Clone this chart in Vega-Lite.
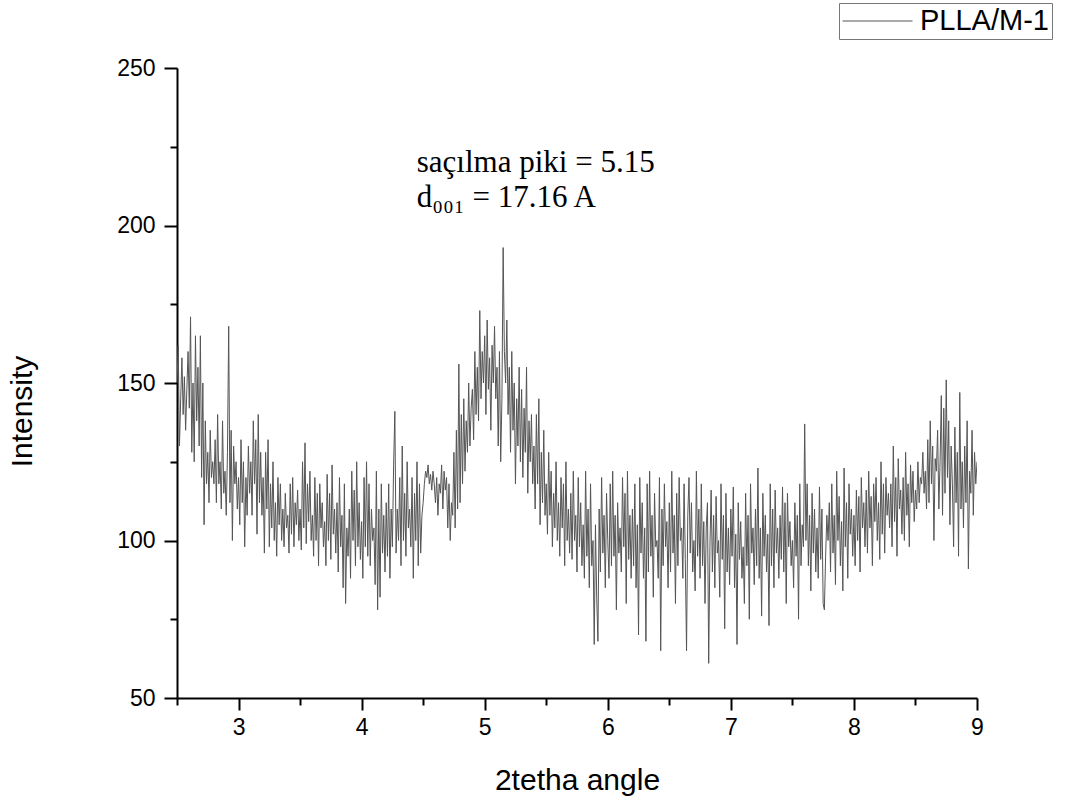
{
"$schema": "https://vega.github.io/schema/vega-lite/v6.json",
"width": 800, "height": 630,
"autosize": {"type": "none"},
"padding": {"left": 177, "top": 68, "right": 88, "bottom": 104},
"background": "white",
"config": {"view": {"stroke": null}, "font": "Liberation Sans"},
"layer": [
{
"data": {"values": [
{"angle":2.50,"intensity":150},{"angle":2.51,"intensity":162},{"angle":2.52,"intensity":130},{"angle":2.53,"intensity":145},{"angle":2.54,"intensity":158},{"angle":2.55,"intensity":140},{"angle":2.56,"intensity":152},{"angle":2.57,"intensity":135},{"angle":2.58,"intensity":148},{"angle":2.59,"intensity":160},
{"angle":2.60,"intensity":142},{"angle":2.61,"intensity":171},{"angle":2.62,"intensity":128},{"angle":2.63,"intensity":150},{"angle":2.64,"intensity":125},{"angle":2.65,"intensity":165},{"angle":2.66,"intensity":138},{"angle":2.67,"intensity":155},{"angle":2.68,"intensity":130},{"angle":2.69,"intensity":165},
{"angle":2.70,"intensity":120},{"angle":2.71,"intensity":150},{"angle":2.72,"intensity":105},{"angle":2.73,"intensity":138},{"angle":2.74,"intensity":118},{"angle":2.75,"intensity":128},{"angle":2.76,"intensity":112},{"angle":2.77,"intensity":135},{"angle":2.78,"intensity":120},{"angle":2.79,"intensity":125},
{"angle":2.80,"intensity":118},{"angle":2.81,"intensity":132},{"angle":2.82,"intensity":112},{"angle":2.83,"intensity":140},{"angle":2.84,"intensity":118},{"angle":2.85,"intensity":125},{"angle":2.86,"intensity":110},{"angle":2.87,"intensity":138},{"angle":2.88,"intensity":115},{"angle":2.89,"intensity":122},
{"angle":2.90,"intensity":108},{"angle":2.91,"intensity":128},{"angle":2.92,"intensity":168},{"angle":2.93,"intensity":112},{"angle":2.94,"intensity":135},{"angle":2.95,"intensity":100},{"angle":2.96,"intensity":130},{"angle":2.97,"intensity":118},{"angle":2.98,"intensity":125},{"angle":2.99,"intensity":110},
{"angle":3.00,"intensity":120},{"angle":3.01,"intensity":105},{"angle":3.02,"intensity":132},{"angle":3.03,"intensity":112},{"angle":3.04,"intensity":125},{"angle":3.05,"intensity":98},{"angle":3.06,"intensity":120},{"angle":3.07,"intensity":108},{"angle":3.08,"intensity":130},{"angle":3.09,"intensity":115},
{"angle":3.10,"intensity":125},{"angle":3.11,"intensity":108},{"angle":3.12,"intensity":138},{"angle":3.13,"intensity":118},{"angle":3.14,"intensity":132},{"angle":3.15,"intensity":102},{"angle":3.16,"intensity":140},{"angle":3.17,"intensity":112},{"angle":3.18,"intensity":128},{"angle":3.19,"intensity":108},
{"angle":3.20,"intensity":120},{"angle":3.21,"intensity":96},{"angle":3.22,"intensity":128},{"angle":3.23,"intensity":110},{"angle":3.24,"intensity":132},{"angle":3.25,"intensity":98},{"angle":3.26,"intensity":118},{"angle":3.27,"intensity":104},{"angle":3.28,"intensity":125},{"angle":3.29,"intensity":100},
{"angle":3.30,"intensity":112},{"angle":3.31,"intensity":95},{"angle":3.32,"intensity":120},{"angle":3.33,"intensity":105},{"angle":3.34,"intensity":118},{"angle":3.35,"intensity":100},{"angle":3.36,"intensity":110},{"angle":3.37,"intensity":98},{"angle":3.38,"intensity":115},{"angle":3.39,"intensity":104},
{"angle":3.40,"intensity":108},{"angle":3.41,"intensity":96},{"angle":3.42,"intensity":118},{"angle":3.43,"intensity":102},{"angle":3.44,"intensity":120},{"angle":3.45,"intensity":98},{"angle":3.46,"intensity":112},{"angle":3.47,"intensity":105},{"angle":3.48,"intensity":116},{"angle":3.49,"intensity":100},
{"angle":3.50,"intensity":110},{"angle":3.51,"intensity":97},{"angle":3.52,"intensity":125},{"angle":3.53,"intensity":104},{"angle":3.54,"intensity":131},{"angle":3.55,"intensity":99},{"angle":3.56,"intensity":118},{"angle":3.57,"intensity":106},{"angle":3.58,"intensity":122},{"angle":3.59,"intensity":100},
{"angle":3.60,"intensity":108},{"angle":3.61,"intensity":95},{"angle":3.62,"intensity":120},{"angle":3.63,"intensity":100},{"angle":3.64,"intensity":115},{"angle":3.65,"intensity":92},{"angle":3.66,"intensity":118},{"angle":3.67,"intensity":104},{"angle":3.68,"intensity":112},{"angle":3.69,"intensity":98},
{"angle":3.70,"intensity":106},{"angle":3.71,"intensity":92},{"angle":3.72,"intensity":121},{"angle":3.73,"intensity":100},{"angle":3.74,"intensity":115},{"angle":3.75,"intensity":94},{"angle":3.76,"intensity":124},{"angle":3.77,"intensity":102},{"angle":3.78,"intensity":110},{"angle":3.79,"intensity":96},
{"angle":3.80,"intensity":112},{"angle":3.81,"intensity":90},{"angle":3.82,"intensity":120},{"angle":3.83,"intensity":98},{"angle":3.84,"intensity":108},{"angle":3.85,"intensity":85},{"angle":3.86,"intensity":118},{"angle":3.87,"intensity":80},{"angle":3.88,"intensity":104},{"angle":3.89,"intensity":95},
{"angle":3.90,"intensity":110},{"angle":3.91,"intensity":88},{"angle":3.92,"intensity":122},{"angle":3.93,"intensity":100},{"angle":3.94,"intensity":116},{"angle":3.95,"intensity":92},{"angle":3.96,"intensity":125},{"angle":3.97,"intensity":98},{"angle":3.98,"intensity":112},{"angle":3.99,"intensity":94},
{"angle":4.00,"intensity":106},{"angle":4.01,"intensity":88},{"angle":4.02,"intensity":120},{"angle":4.03,"intensity":98},{"angle":4.04,"intensity":125},{"angle":4.05,"intensity":95},{"angle":4.06,"intensity":118},{"angle":4.07,"intensity":92},{"angle":4.08,"intensity":110},{"angle":4.09,"intensity":100},
{"angle":4.10,"intensity":104},{"angle":4.11,"intensity":86},{"angle":4.12,"intensity":122},{"angle":4.13,"intensity":78},{"angle":4.14,"intensity":110},{"angle":4.15,"intensity":82},{"angle":4.16,"intensity":118},{"angle":4.17,"intensity":96},{"angle":4.18,"intensity":108},{"angle":4.19,"intensity":90},
{"angle":4.20,"intensity":112},{"angle":4.21,"intensity":95},{"angle":4.22,"intensity":118},{"angle":4.23,"intensity":88},{"angle":4.24,"intensity":110},{"angle":4.25,"intensity":98},{"angle":4.26,"intensity":124},{"angle":4.27,"intensity":141},{"angle":4.28,"intensity":96},{"angle":4.29,"intensity":110},
{"angle":4.30,"intensity":100},{"angle":4.31,"intensity":120},{"angle":4.32,"intensity":92},{"angle":4.33,"intensity":130},{"angle":4.34,"intensity":100},{"angle":4.35,"intensity":115},{"angle":4.36,"intensity":95},{"angle":4.37,"intensity":125},{"angle":4.38,"intensity":104},{"angle":4.39,"intensity":110},
{"angle":4.40,"intensity":98},{"angle":4.41,"intensity":120},{"angle":4.42,"intensity":88},{"angle":4.43,"intensity":115},{"angle":4.44,"intensity":100},{"angle":4.45,"intensity":125},{"angle":4.46,"intensity":92},{"angle":4.47,"intensity":118},{"angle":4.48,"intensity":96},{"angle":4.49,"intensity":108},
{"angle":4.50,"intensity":112},{"angle":4.51,"intensity":118},{"angle":4.52,"intensity":122},{"angle":4.53,"intensity":120},{"angle":4.54,"intensity":124},{"angle":4.55,"intensity":118},{"angle":4.56,"intensity":121},{"angle":4.57,"intensity":116},{"angle":4.58,"intensity":122},{"angle":4.59,"intensity":118},
{"angle":4.60,"intensity":112},{"angle":4.61,"intensity":120},{"angle":4.62,"intensity":108},{"angle":4.63,"intensity":118},{"angle":4.64,"intensity":115},{"angle":4.65,"intensity":124},{"angle":4.66,"intensity":110},{"angle":4.67,"intensity":122},{"angle":4.68,"intensity":116},{"angle":4.69,"intensity":120},
{"angle":4.70,"intensity":104},{"angle":4.71,"intensity":118},{"angle":4.72,"intensity":100},{"angle":4.73,"intensity":112},{"angle":4.74,"intensity":108},{"angle":4.75,"intensity":128},{"angle":4.76,"intensity":104},{"angle":4.77,"intensity":135},{"angle":4.78,"intensity":110},{"angle":4.79,"intensity":156},
{"angle":4.80,"intensity":112},{"angle":4.81,"intensity":140},{"angle":4.82,"intensity":118},{"angle":4.83,"intensity":145},{"angle":4.84,"intensity":122},{"angle":4.85,"intensity":138},{"angle":4.86,"intensity":128},{"angle":4.87,"intensity":150},{"angle":4.88,"intensity":130},{"angle":4.89,"intensity":142},
{"angle":4.90,"intensity":148},{"angle":4.91,"intensity":132},{"angle":4.92,"intensity":160},{"angle":4.93,"intensity":140},{"angle":4.94,"intensity":155},{"angle":4.95,"intensity":138},{"angle":4.96,"intensity":173},{"angle":4.97,"intensity":145},{"angle":4.98,"intensity":160},{"angle":4.99,"intensity":150},
{"angle":5.00,"intensity":165},{"angle":5.01,"intensity":140},{"angle":5.02,"intensity":170},{"angle":5.03,"intensity":148},{"angle":5.04,"intensity":158},{"angle":5.05,"intensity":135},{"angle":5.06,"intensity":162},{"angle":5.07,"intensity":150},{"angle":5.08,"intensity":168},{"angle":5.09,"intensity":145},
{"angle":5.10,"intensity":155},{"angle":5.11,"intensity":130},{"angle":5.12,"intensity":160},{"angle":5.13,"intensity":125},{"angle":5.14,"intensity":145},{"angle":5.15,"intensity":193},{"angle":5.16,"intensity":160},{"angle":5.17,"intensity":150},{"angle":5.18,"intensity":170},{"angle":5.19,"intensity":140},
{"angle":5.20,"intensity":155},{"angle":5.21,"intensity":128},{"angle":5.22,"intensity":160},{"angle":5.23,"intensity":135},{"angle":5.24,"intensity":150},{"angle":5.25,"intensity":118},{"angle":5.26,"intensity":145},{"angle":5.27,"intensity":130},{"angle":5.28,"intensity":155},{"angle":5.29,"intensity":125},
{"angle":5.30,"intensity":148},{"angle":5.31,"intensity":120},{"angle":5.32,"intensity":142},{"angle":5.33,"intensity":128},{"angle":5.34,"intensity":155},{"angle":5.35,"intensity":115},{"angle":5.36,"intensity":138},{"angle":5.37,"intensity":125},{"angle":5.38,"intensity":140},{"angle":5.39,"intensity":118},
{"angle":5.40,"intensity":130},{"angle":5.41,"intensity":110},{"angle":5.42,"intensity":140},{"angle":5.43,"intensity":118},{"angle":5.44,"intensity":145},{"angle":5.45,"intensity":105},{"angle":5.46,"intensity":128},{"angle":5.47,"intensity":112},{"angle":5.48,"intensity":135},{"angle":5.49,"intensity":108},
{"angle":5.50,"intensity":118},{"angle":5.51,"intensity":102},{"angle":5.52,"intensity":128},{"angle":5.53,"intensity":108},{"angle":5.54,"intensity":122},{"angle":5.55,"intensity":98},{"angle":5.56,"intensity":115},{"angle":5.57,"intensity":104},{"angle":5.58,"intensity":125},{"angle":5.59,"intensity":100},
{"angle":5.60,"intensity":112},{"angle":5.61,"intensity":95},{"angle":5.62,"intensity":120},{"angle":5.63,"intensity":104},{"angle":5.64,"intensity":118},{"angle":5.65,"intensity":92},{"angle":5.66,"intensity":125},{"angle":5.67,"intensity":100},{"angle":5.68,"intensity":110},{"angle":5.69,"intensity":96},
{"angle":5.70,"intensity":115},{"angle":5.71,"intensity":94},{"angle":5.72,"intensity":122},{"angle":5.73,"intensity":100},{"angle":5.74,"intensity":108},{"angle":5.75,"intensity":90},{"angle":5.76,"intensity":120},{"angle":5.77,"intensity":98},{"angle":5.78,"intensity":112},{"angle":5.79,"intensity":92},
{"angle":5.80,"intensity":105},{"angle":5.81,"intensity":88},{"angle":5.82,"intensity":122},{"angle":5.83,"intensity":95},{"angle":5.84,"intensity":110},{"angle":5.85,"intensity":85},{"angle":5.86,"intensity":118},{"angle":5.87,"intensity":92},{"angle":5.88,"intensity":100},{"angle":5.89,"intensity":67},
{"angle":5.90,"intensity":105},{"angle":5.91,"intensity":82},{"angle":5.92,"intensity":68},{"angle":5.93,"intensity":110},{"angle":5.94,"intensity":90},{"angle":5.95,"intensity":120},{"angle":5.96,"intensity":96},{"angle":5.97,"intensity":108},{"angle":5.98,"intensity":85},{"angle":5.99,"intensity":115},
{"angle":6.00,"intensity":100},{"angle":6.01,"intensity":88},{"angle":6.02,"intensity":118},{"angle":6.03,"intensity":92},{"angle":6.04,"intensity":122},{"angle":6.05,"intensity":95},{"angle":6.06,"intensity":108},{"angle":6.07,"intensity":78},{"angle":6.08,"intensity":112},{"angle":6.09,"intensity":96},
{"angle":6.10,"intensity":104},{"angle":6.11,"intensity":90},{"angle":6.12,"intensity":120},{"angle":6.13,"intensity":98},{"angle":6.14,"intensity":115},{"angle":6.15,"intensity":80},{"angle":6.16,"intensity":122},{"angle":6.17,"intensity":94},{"angle":6.18,"intensity":108},{"angle":6.19,"intensity":88},
{"angle":6.20,"intensity":110},{"angle":6.21,"intensity":92},{"angle":6.22,"intensity":118},{"angle":6.23,"intensity":85},{"angle":6.24,"intensity":105},{"angle":6.25,"intensity":70},{"angle":6.26,"intensity":120},{"angle":6.27,"intensity":96},{"angle":6.28,"intensity":112},{"angle":6.29,"intensity":88},
{"angle":6.30,"intensity":104},{"angle":6.31,"intensity":68},{"angle":6.32,"intensity":118},{"angle":6.33,"intensity":90},{"angle":6.34,"intensity":122},{"angle":6.35,"intensity":95},{"angle":6.36,"intensity":108},{"angle":6.37,"intensity":82},{"angle":6.38,"intensity":115},{"angle":6.39,"intensity":98},
{"angle":6.40,"intensity":100},{"angle":6.41,"intensity":88},{"angle":6.42,"intensity":120},{"angle":6.43,"intensity":65},{"angle":6.44,"intensity":110},{"angle":6.45,"intensity":92},{"angle":6.46,"intensity":118},{"angle":6.47,"intensity":98},{"angle":6.48,"intensity":106},{"angle":6.49,"intensity":85},
{"angle":6.50,"intensity":112},{"angle":6.51,"intensity":90},{"angle":6.52,"intensity":122},{"angle":6.53,"intensity":96},{"angle":6.54,"intensity":108},{"angle":6.55,"intensity":80},{"angle":6.56,"intensity":115},{"angle":6.57,"intensity":92},{"angle":6.58,"intensity":120},{"angle":6.59,"intensity":100},
{"angle":6.60,"intensity":104},{"angle":6.61,"intensity":88},{"angle":6.62,"intensity":118},{"angle":6.63,"intensity":94},{"angle":6.64,"intensity":65},{"angle":6.65,"intensity":108},{"angle":6.66,"intensity":120},{"angle":6.67,"intensity":96},{"angle":6.68,"intensity":112},{"angle":6.69,"intensity":90},
{"angle":6.70,"intensity":100},{"angle":6.71,"intensity":84},{"angle":6.72,"intensity":122},{"angle":6.73,"intensity":95},{"angle":6.74,"intensity":110},{"angle":6.75,"intensity":88},{"angle":6.76,"intensity":118},{"angle":6.77,"intensity":92},{"angle":6.78,"intensity":106},{"angle":6.79,"intensity":80},
{"angle":6.80,"intensity":104},{"angle":6.81,"intensity":112},{"angle":6.82,"intensity":61},{"angle":6.83,"intensity":98},{"angle":6.84,"intensity":116},{"angle":6.85,"intensity":90},{"angle":6.86,"intensity":108},{"angle":6.87,"intensity":85},{"angle":6.88,"intensity":114},{"angle":6.89,"intensity":96},
{"angle":6.90,"intensity":100},{"angle":6.91,"intensity":82},{"angle":6.92,"intensity":118},{"angle":6.93,"intensity":94},{"angle":6.94,"intensity":108},{"angle":6.95,"intensity":72},{"angle":6.96,"intensity":115},{"angle":6.97,"intensity":90},{"angle":6.98,"intensity":104},{"angle":6.99,"intensity":86},
{"angle":7.00,"intensity":110},{"angle":7.01,"intensity":95},{"angle":7.02,"intensity":117},{"angle":7.03,"intensity":85},{"angle":7.04,"intensity":102},{"angle":7.05,"intensity":67},{"angle":7.06,"intensity":112},{"angle":7.07,"intensity":94},{"angle":7.08,"intensity":106},{"angle":7.09,"intensity":88},
{"angle":7.10,"intensity":98},{"angle":7.11,"intensity":80},{"angle":7.12,"intensity":115},{"angle":7.13,"intensity":92},{"angle":7.14,"intensity":108},{"angle":7.15,"intensity":75},{"angle":7.16,"intensity":118},{"angle":7.17,"intensity":96},{"angle":7.18,"intensity":104},{"angle":7.19,"intensity":86},
{"angle":7.20,"intensity":110},{"angle":7.21,"intensity":92},{"angle":7.22,"intensity":123},{"angle":7.23,"intensity":88},{"angle":7.24,"intensity":104},{"angle":7.25,"intensity":76},{"angle":7.26,"intensity":115},{"angle":7.27,"intensity":95},{"angle":7.28,"intensity":108},{"angle":7.29,"intensity":90},
{"angle":7.30,"intensity":102},{"angle":7.31,"intensity":73},{"angle":7.32,"intensity":118},{"angle":7.33,"intensity":92},{"angle":7.34,"intensity":110},{"angle":7.35,"intensity":85},{"angle":7.36,"intensity":116},{"angle":7.37,"intensity":96},{"angle":7.38,"intensity":104},{"angle":7.39,"intensity":88},
{"angle":7.40,"intensity":108},{"angle":7.41,"intensity":94},{"angle":7.42,"intensity":117},{"angle":7.43,"intensity":90},{"angle":7.44,"intensity":112},{"angle":7.45,"intensity":80},{"angle":7.46,"intensity":115},{"angle":7.47,"intensity":98},{"angle":7.48,"intensity":106},{"angle":7.49,"intensity":92},
{"angle":7.50,"intensity":100},{"angle":7.51,"intensity":85},{"angle":7.52,"intensity":112},{"angle":7.53,"intensity":95},{"angle":7.54,"intensity":108},{"angle":7.55,"intensity":75},{"angle":7.56,"intensity":118},{"angle":7.57,"intensity":92},{"angle":7.58,"intensity":105},{"angle":7.59,"intensity":98},
{"angle":7.60,"intensity":137},{"angle":7.61,"intensity":100},{"angle":7.62,"intensity":118},{"angle":7.63,"intensity":92},{"angle":7.64,"intensity":108},{"angle":7.65,"intensity":84},{"angle":7.66,"intensity":115},{"angle":7.67,"intensity":96},{"angle":7.68,"intensity":110},{"angle":7.69,"intensity":90},
{"angle":7.70,"intensity":104},{"angle":7.71,"intensity":88},{"angle":7.72,"intensity":117},{"angle":7.73,"intensity":94},{"angle":7.74,"intensity":110},{"angle":7.75,"intensity":80},{"angle":7.76,"intensity":78},{"angle":7.77,"intensity":95},{"angle":7.78,"intensity":108},{"angle":7.79,"intensity":100},
{"angle":7.80,"intensity":112},{"angle":7.81,"intensity":90},{"angle":7.82,"intensity":118},{"angle":7.83,"intensity":96},{"angle":7.84,"intensity":108},{"angle":7.85,"intensity":86},{"angle":7.86,"intensity":122},{"angle":7.87,"intensity":100},{"angle":7.88,"intensity":114},{"angle":7.89,"intensity":92},
{"angle":7.90,"intensity":106},{"angle":7.91,"intensity":84},{"angle":7.92,"intensity":123},{"angle":7.93,"intensity":98},{"angle":7.94,"intensity":112},{"angle":7.95,"intensity":88},{"angle":7.96,"intensity":118},{"angle":7.97,"intensity":102},{"angle":7.98,"intensity":110},{"angle":7.99,"intensity":95},
{"angle":8.00,"intensity":108},{"angle":8.01,"intensity":92},{"angle":8.02,"intensity":116},{"angle":8.03,"intensity":100},{"angle":8.04,"intensity":114},{"angle":8.05,"intensity":90},{"angle":8.06,"intensity":120},{"angle":8.07,"intensity":104},{"angle":8.08,"intensity":112},{"angle":8.09,"intensity":98},
{"angle":8.10,"intensity":116},{"angle":8.11,"intensity":96},{"angle":8.12,"intensity":122},{"angle":8.13,"intensity":104},{"angle":8.14,"intensity":114},{"angle":8.15,"intensity":92},{"angle":8.16,"intensity":118},{"angle":8.17,"intensity":106},{"angle":8.18,"intensity":120},{"angle":8.19,"intensity":100},
{"angle":8.20,"intensity":112},{"angle":8.21,"intensity":94},{"angle":8.22,"intensity":125},{"angle":8.23,"intensity":102},{"angle":8.24,"intensity":118},{"angle":8.25,"intensity":96},{"angle":8.26,"intensity":120},{"angle":8.27,"intensity":108},{"angle":8.28,"intensity":115},{"angle":8.29,"intensity":104},
{"angle":8.30,"intensity":118},{"angle":8.31,"intensity":98},{"angle":8.32,"intensity":130},{"angle":8.33,"intensity":106},{"angle":8.34,"intensity":120},{"angle":8.35,"intensity":95},{"angle":8.36,"intensity":126},{"angle":8.37,"intensity":110},{"angle":8.38,"intensity":116},{"angle":8.39,"intensity":102},
{"angle":8.40,"intensity":120},{"angle":8.41,"intensity":100},{"angle":8.42,"intensity":128},{"angle":8.43,"intensity":108},{"angle":8.44,"intensity":118},{"angle":8.45,"intensity":98},{"angle":8.46,"intensity":124},{"angle":8.47,"intensity":112},{"angle":8.48,"intensity":122},{"angle":8.49,"intensity":106},
{"angle":8.50,"intensity":116},{"angle":8.51,"intensity":110},{"angle":8.52,"intensity":125},{"angle":8.53,"intensity":112},{"angle":8.54,"intensity":120},{"angle":8.55,"intensity":118},{"angle":8.56,"intensity":128},{"angle":8.57,"intensity":115},{"angle":8.58,"intensity":122},{"angle":8.59,"intensity":110},
{"angle":8.60,"intensity":132},{"angle":8.61,"intensity":112},{"angle":8.62,"intensity":138},{"angle":8.63,"intensity":118},{"angle":8.64,"intensity":130},{"angle":8.65,"intensity":100},{"angle":8.66,"intensity":126},{"angle":8.67,"intensity":122},{"angle":8.68,"intensity":135},{"angle":8.69,"intensity":110},
{"angle":8.70,"intensity":125},{"angle":8.71,"intensity":146},{"angle":8.72,"intensity":108},{"angle":8.73,"intensity":142},{"angle":8.74,"intensity":115},{"angle":8.75,"intensity":151},{"angle":8.76,"intensity":120},{"angle":8.77,"intensity":138},{"angle":8.78,"intensity":105},{"angle":8.79,"intensity":130},
{"angle":8.80,"intensity":118},{"angle":8.81,"intensity":98},{"angle":8.82,"intensity":136},{"angle":8.83,"intensity":112},{"angle":8.84,"intensity":128},{"angle":8.85,"intensity":95},{"angle":8.86,"intensity":147},{"angle":8.87,"intensity":110},{"angle":8.88,"intensity":125},{"angle":8.89,"intensity":104},
{"angle":8.90,"intensity":130},{"angle":8.91,"intensity":112},{"angle":8.92,"intensity":138},{"angle":8.93,"intensity":91},{"angle":8.94,"intensity":122},{"angle":8.95,"intensity":115},{"angle":8.96,"intensity":135},{"angle":8.97,"intensity":108},{"angle":8.98,"intensity":128},{"angle":8.99,"intensity":118},
{"angle":9.00,"intensity":125}
]},
"mark": {"type": "line", "strokeWidth": 1, "clip": true},
"encoding": {
"x": {"field": "angle", "type": "quantitative", "title": "2tetha angle",
 "scale": {"domain": [2.5, 9], "nice": false, "zero": false},
 "axis": {"values": [2.5,3,3.5,4,4.5,5,5.5,6,6.5,7,7.5,8,8.5,9], "labelExpr": "datum.value % 1 === 0 ? format(datum.value, 'd') : ''",
  "grid": false, "domainColor": "black", "domainWidth": 2, "tickColor": "black", "tickWidth": 2,
  "tickSize": {"condition": {"test": "datum.value % 1 === 0", "value": 12}, "value": 7},
  "labelFont": "Liberation Sans", "labelFontSize": 23, "labelColor": "black", "labelPadding": 6, "labelFlush": false,
  "titleFont": "Liberation Sans", "titleFontSize": 30, "titleFontWeight": "normal", "titleColor": "black", "titlePadding": 26}},
"y": {"field": "intensity", "type": "quantitative", "title": "Intensity",
 "scale": {"domain": [50, 250], "nice": false, "zero": false},
 "axis": {"values": [50,75,100,125,150,175,200,225,250], "labelExpr": "datum.value % 50 === 0 ? datum.label : ''",
  "grid": false, "domainColor": "black", "domainWidth": 2, "tickColor": "black", "tickWidth": 2,
  "tickSize": {"condition": {"test": "datum.value % 50 === 0", "value": 13}, "value": 7},
  "labelFont": "Liberation Sans", "labelFontSize": 23, "labelColor": "black", "labelPadding": 9, "labelFlush": false,
  "titleFont": "Liberation Sans", "titleFontSize": 30, "titleFontWeight": "normal", "titleColor": "black", "titlePadding": 79, "titleY": 343}},
"color": {"datum": "PLLA/M-1", "type": "nominal", "scale": {"range": ["#555555"]},
 "legend": {"title": null, "orient": "none", "legendX": 662, "legendY": -65,
  "symbolType": "M-1,0H3.83", "symbolSize": 841, "symbolStrokeWidth": 1, "symbolStrokeColor": "#555555", "symbolFillColor": "transparent",
  "labelFont": "Liberation Sans", "labelFontSize": 29, "labelColor": "black", "labelOffset": 48,
  "strokeColor": "#777777", "padding": 3, "fillColor": "white"}}
}
},
{
"data": {"values": [{}]},
"mark": {"type": "text", "text": ["saçılma piki = 5.15", "d₀₀₁ = 17.16 A"], "font": "Liberation Serif", "fontSize": 31, "align": "left", "baseline": "alphabetic", "lineHeight": 35.5, "color": "black"},
"encoding": {"x": {"datum": 4.448, "type": "quantitative"}, "y": {"datum": 217.1, "type": "quantitative"}}
}
]
}
